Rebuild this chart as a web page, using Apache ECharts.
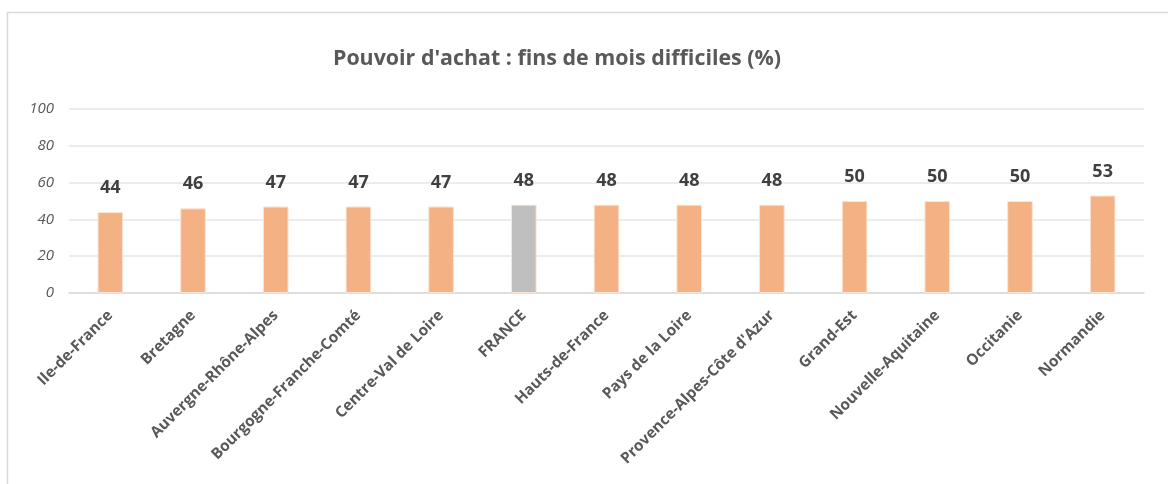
<!DOCTYPE html>
<html><head><meta charset="utf-8">
<script src="https://cdn.jsdelivr.net/npm/echarts@6/dist/echarts.min.js"></script>
<style>html,body{margin:0;padding:0;background:#fff}#c{width:1168px;height:484px}</style>
</head><body><div id="c"></div>
<script>
const categories = ['Ile-de-France','Bretagne','Auvergne-Rhône-Alpes','Bourgogne-Franche-Comté','Centre-Val de Loire','FRANCE','Hauts-de-France','Pays de la Loire','Provence-Alpes-Côte d\'Azur','Grand-Est','Nouvelle-Aquitaine','Occitanie','Normandie'];
const values = [44,46,47,47,47,48,48,48,48,50,50,50,53];
const highlight = 'FRANCE';
const yTicks = [0,20,40,60,80,100];
const titleText = "Pouvoir d'achat : fins de mois difficiles (%)";

const chart = echarts.init(document.getElementById('c'), null, {renderer:'canvas'});
const FONT = '"Open Sans", sans-serif';
chart.setOption({
  animation:false,
  backgroundColor:'#fff',
  title:{text:titleText,left:552,textAlign:'center',top:43,
    textStyle:{fontFamily:FONT,fontSize:21.4,fontWeight:'bold',color:'#595959'}},
  graphic:[{type:'rect',shape:{x:7.5,y:12.5,width:1200,height:520},style:{fill:null,stroke:'#d9d9d9',lineWidth:1.5},silent:true,z:-1}],
  grid:{left:69,right:24,top:109,bottom:191,containLabel:false},
  xAxis:{type:'category',data:categories,
    axisLine:{lineStyle:{color:'#d9d9d9',width:1.5}},axisTick:{show:false},
    axisLabel:{rotate:45,interval:0,margin:20,fontFamily:FONT,fontSize:15.3,fontWeight:'bold',color:'#595959'}},
  yAxis:{type:'value',min:0,max:100,interval:20,
    axisLine:{show:false},axisTick:{show:false},
    splitLine:{lineStyle:{color:'#e6e6e6',width:1.5}},
    axisLabel:{margin:15,fontFamily:FONT,fontSize:15,fontStyle:'italic',color:'#595959',
      formatter:v=>yTicks.includes(v)?String(v):''}},
  series:[{type:'bar',barWidth:'31%',
    data:values.map((v,i)=>({value:v,itemStyle:{color:categories[i]===highlight?'#bfbfbf':'#f4b183'}})),
    itemStyle:{borderColor:'#fbe5d6',borderWidth:1},
    label:{show:true,position:'top',distance:15,fontFamily:FONT,fontSize:18,fontWeight:'bold',color:'#404040'}}]
});
</script></body></html>
